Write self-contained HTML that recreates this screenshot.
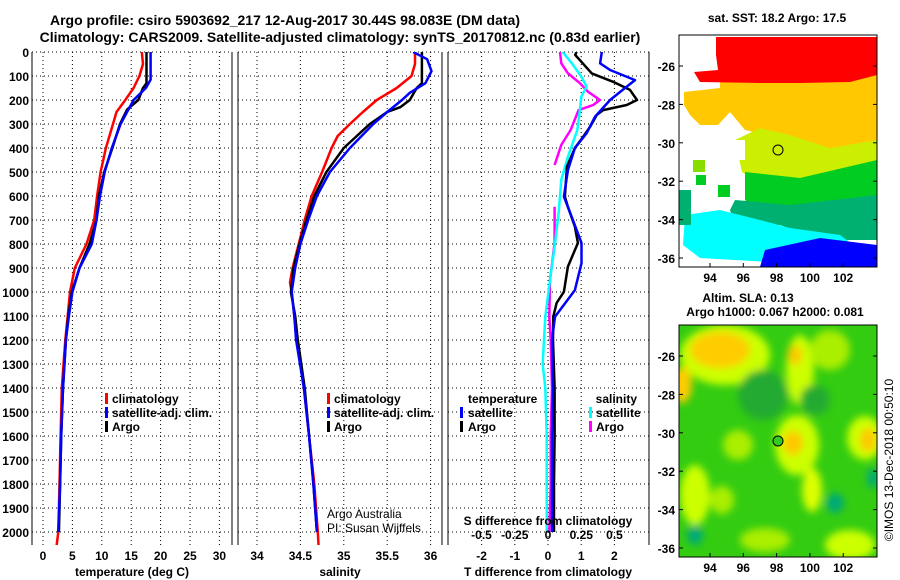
<!DOCTYPE html>
<html><head><meta charset="utf-8"><style>
html,body{margin:0;padding:0;background:#fff;}
svg{display:block;font-family:"Liberation Sans",sans-serif;}
.b{font-weight:bold;font-size:12px;}
.t{font-weight:bold;font-size:14px;}
.n{font-size:12px;}
</style></head><body>
<svg id="chart" width="900" height="580" viewBox="0 0 900 580" xmlns="http://www.w3.org/2000/svg">
<defs>
<clipPath id="c1"><rect x="32" y="52" width="200" height="493"/></clipPath>
<clipPath id="c2"><rect x="238" y="52" width="204" height="493"/></clipPath>
<clipPath id="c3"><rect x="448" y="52" width="201" height="493"/></clipPath>
<clipPath id="cm1"><rect x="679" y="35" width="198" height="232"/></clipPath>
<clipPath id="cm2"><rect x="679" y="325" width="198" height="232"/></clipPath>
<filter id="blur" x="-20%" y="-20%" width="140%" height="140%"><feGaussianBlur stdDeviation="4"/></filter>
</defs>
<text class="t" x="285" y="25" text-anchor="middle">Argo profile: csiro 5903692_217 12-Aug-2017 30.44S 98.083E (DM data)</text>
<text class="t" x="340" y="42" text-anchor="middle">Climatology: CARS2009. Satellite-adjusted climatology: synTS_20170812.nc (0.83d earlier)</text>
<g id="grid"></g>
<g id="lines"></g>
<g id="labels"></g>

<g class="b">
<rect x="105" y="393" width="3" height="11" fill="#f00"/><text x="112" y="403">climatology</text>
<rect x="105" y="407" width="3" height="11" fill="#00f"/><text x="112" y="417">satellite-adj. clim.</text>
<rect x="105" y="421" width="3" height="11" fill="#000"/><text x="112" y="431">Argo</text>
</g>
<g class="b">
<rect x="327" y="393" width="3" height="11" fill="#f00"/><text x="334" y="403">climatology</text>
<rect x="327" y="407" width="3" height="11" fill="#00f"/><text x="334" y="417">satellite-adj. clim.</text>
<rect x="327" y="421" width="3" height="11" fill="#000"/><text x="334" y="431">Argo</text>
</g>
<g class="b">
<text x="468" y="403">temperature</text>
<rect x="460" y="407" width="3" height="11" fill="#00f"/><text x="468" y="417">satellite</text>
<rect x="460" y="421" width="3" height="11" fill="#000"/><text x="468" y="431">Argo</text>
<text x="637" y="403" text-anchor="end">salinity</text>
<rect x="589" y="407" width="3" height="11" fill="#0ff"/><text x="596" y="417">satellite</text>
<rect x="589" y="421" width="3" height="11" fill="#f0f"/><text x="596" y="431">Argo</text>
</g>
<text class="n" x="327" y="518">Argo Australia</text>
<text class="n" x="327" y="532">PI: Susan Wijffels</text>
<text class="b" x="548" y="525" text-anchor="middle">S difference from climatology</text>

<text class="b" x="777" y="22" text-anchor="middle">sat. SST: 18.2 Argo: 17.5</text>
<g clip-path="url(#cm1)">
<rect x="679" y="35" width="198" height="232" fill="#fff"/>
<polygon fill="#ffc800" points="684,92 720,88 720,72 877,72 877,165 830,160 800,150 780,138 745,130 730,112 718,125 700,125 690,115 684,105" />
<polygon fill="#ff0000" points="716,37 877,37 877,75 850,82 800,83 760,83 700,82 694,72 718,70 716,55" />
<polygon fill="#ccee00" points="735,140 760,128 790,135 830,148 877,140 877,180 840,182 800,178 760,182 742,172" />
<polygon fill="#00cc22" points="745,172 800,178 877,160 877,205 800,215 760,212 745,200" />
<polygon fill="#00b070" points="735,200 790,205 877,195 877,240 820,240 780,225 735,225 730,210" />
<polygon fill="#00ffff" points="685,215 720,210 760,220 790,228 840,235 860,250 860,262 770,262 700,258 683,245" />
<polygon fill="#0000ff" points="765,250 820,238 877,245 877,267 760,267" />
<rect x="679" y="190" width="12" height="35" fill="#00b070"/>
<rect x="693" y="160" width="12" height="12" fill="#88dd00"/>
<rect x="696" y="175" width="10" height="10" fill="#00cc22"/>
<rect x="705" y="140" width="40" height="20" fill="#fff"/>
<rect x="718" y="185" width="12" height="12" fill="#00cc22"/>
<circle cx="778" cy="150" r="5" fill="#ccee00" stroke="#000" stroke-width="1"/>
</g>
<rect x="679" y="35" width="198" height="232" fill="none" stroke="#000"/>
<g id="mapaxes1"></g>
<text class="b" x="748" y="302" text-anchor="middle">Altim. SLA: 0.13</text>
<text class="b" x="775" y="316" text-anchor="middle">Argo h1000: 0.067 h2000: 0.081</text>

<g clip-path="url(#cm2)">
<rect x="679" y="325" width="198" height="232" fill="#33cc11"/>
<g filter="url(#blur)">
<ellipse cx="725" cy="355" rx="45" ry="30" fill="#ccff00"/>
<ellipse cx="720" cy="350" rx="30" ry="18" fill="#ffcc00"/>
<ellipse cx="682" cy="385" rx="10" ry="18" fill="#ffcc00"/>
<ellipse cx="800" cy="370" rx="14" ry="35" fill="#ccff00"/>
<ellipse cx="795" cy="355" rx="7" ry="10" fill="#ffc800"/>
<ellipse cx="830" cy="350" rx="20" ry="20" fill="#aaee00"/>
<ellipse cx="797" cy="445" rx="22" ry="30" fill="#ccff00"/>
<ellipse cx="793" cy="443" rx="10" ry="12" fill="#ffc800"/>
<ellipse cx="865" cy="438" rx="18" ry="22" fill="#ccff00"/>
<ellipse cx="868" cy="440" rx="8" ry="12" fill="#ffc800"/>
<ellipse cx="812" cy="490" rx="10" ry="22" fill="#ddff00"/>
<ellipse cx="738" cy="445" rx="15" ry="15" fill="#aaee00"/>
<ellipse cx="695" cy="495" rx="15" ry="30" fill="#ccff00"/>
<ellipse cx="722" cy="500" rx="12" ry="14" fill="#aaee00"/>
<ellipse cx="765" cy="540" rx="25" ry="12" fill="#aaee00"/>
<ellipse cx="850" cy="545" rx="25" ry="15" fill="#ccff00"/>
<ellipse cx="695" cy="535" rx="8" ry="10" fill="#00aa77"/>
<ellipse cx="835" cy="503" rx="9" ry="10" fill="#00aa77"/>
<ellipse cx="873" cy="478" rx="6" ry="10" fill="#00aa77"/>
<ellipse cx="763" cy="395" rx="25" ry="25" fill="#22aa33"/>
<ellipse cx="815" cy="400" rx="15" ry="15" fill="#22aa33"/>
</g>
<circle cx="778" cy="441" r="5" fill="#33cc22" stroke="#000" stroke-width="1"/>
</g>
<rect x="679" y="325" width="198" height="232" fill="none" stroke="#000"/>
<g id="mapaxes2"></g>
<text class="n" transform="translate(893,460) rotate(-90)" text-anchor="middle">©IMOS 13-Dec-2018 00:50:10</text>
</svg>
<script>
const depthTicks = [0,100,200,300,400,500,600,700,800,900,1000,1100,1200,1300,1400,1500,1600,1700,1800,1900,2000];
const tempTicks = [0,5,10,15,20,25,30];
const salTicks = [34,34.5,35,35.5,36];
const salTickLabels = ["34","34.5","35","35.5","36"];
const dtTicks = [-2,-1,0,1,2];
const dsTicks = [-0.5,-0.25,0,0.25,0.5];
const dsTickLabels = ["-0.5","-0.25","0","0.25","0.5"];

const tArgoDepth = [0,130,150,200,240,300,400,500,600,700,800,900,1000,1100,1200,1400,1600,1800,2000];
const tArgo = [17.6,17.6,17.0,16.2,14.3,13.1,11.8,10.4,9.5,9.1,7.9,6.2,4.9,4.3,3.9,3.4,3.1,2.9,2.7];
const tSatDepth = [0,115,150,200,300,400,500,600,700,800,900,1000,1100,1200,1400,1600,1800,2000];
const tSat = [18.3,18.3,17.5,15.4,13.2,11.7,10.5,9.7,9.1,8.3,6.2,5.0,4.4,3.9,3.4,3.1,2.9,2.6];
const tClimDepth = [0,50,100,150,200,250,300,400,500,600,700,800,900,1000,1100,1200,1400,1600,1800,2000,2060];
const tClim = [16.8,17.0,16.4,15.4,14.0,12.5,11.9,10.7,9.8,9.2,8.7,7.4,5.4,4.6,4.2,3.8,3.2,3.0,2.8,2.6,2.3];

const sArgoDepth = [0,130,150,200,230,250,300,350,400,470,500,600,700,800,900,1000,1100,1200,1400,1600,1800,2000];
const sArgo = [35.90,35.90,35.84,35.76,35.65,35.50,35.30,35.15,35.0,34.86,34.80,34.66,34.57,34.49,34.42,34.39,34.44,34.47,34.55,34.60,34.65,34.69];
const sSatDepth = [0,30,80,130,170,200,250,300,400,500,600,700,800,900,1000,1100,1200,1400,1600,1800,2000];
const sSat = [35.8,35.96,36.01,35.94,35.76,35.67,35.50,35.34,35.07,34.84,34.69,34.59,34.50,34.44,34.40,34.43,34.45,34.54,34.60,34.65,34.69];
const sClimDepth = [0,50,100,150,200,250,300,350,400,500,600,700,800,900,960,1000,1100,1200,1400,1600,1800,2000,2060];
const sClim = [35.82,35.82,35.78,35.61,35.38,35.22,35.07,34.93,34.86,34.75,34.63,34.55,34.48,34.41,34.38,34.40,34.43,34.46,34.54,34.60,34.66,34.70,34.71];

const dtArgoDepth = [0,12,89,124,158,200,221,242,262,311,353,400,478,603,645,728,796,894,999,1046,1103,1200,1400,1600,1800,2000];
const dtArgo = [0.86,0.82,1.32,1.96,2.47,2.68,2.37,1.66,1.47,1.27,1.06,0.81,0.57,0.51,0.6,0.81,0.9,0.6,0.48,0.26,0.16,0.15,0.2,0.2,0.18,0.18];
const dtSatDepth = [0,47,75,117,150,200,269,339,400,492,603,686,796,880,992,1103,1200,1400,1600,1800,2000];
const dtSat = [1.62,1.57,1.87,2.62,2.32,1.87,1.42,1.16,0.81,0.6,0.48,0.71,1.01,1.01,0.81,0.21,0.12,0.15,0.12,0.12,0.12];
const dsSatDepth = [0,47,103,144,186,242,325,436,533,672,811,950,1103,1200,1300,1400,1600,1800,2000];
const dsSat = [0.11,0.18,0.25,0.29,0.25,0.24,0.22,0.15,0.10,0.08,0.05,0.015,-0.02,-0.03,-0.04,-0.02,-0.01,-0.01,-0.01];
const dsArgoDepthA = [0,47,89,130,165,200,221,242,325,387,471];
const dsArgoA = [0.09,0.10,0.15,0.24,0.30,0.39,0.34,0.23,0.17,0.10,0.05];
const dsArgoDepthB = [645,796,950,1103,1200,1400,1600,1800,2000];
const dsArgoB = [0.05,0.05,0.015,0.01,0.02,0.03,0.02,0.02,0.01];

const mapLatTicks = [-26,-28,-30,-32,-34,-36];
const mapLonTicks = [94,96,98,100,102];

const yD = d => 52 + d*0.24;
const xT = v => 43 + v*5.88;
const xS = v => 257 + (v-34)*86.8;
const xDT = v => 548 + v*33.2;
const xDS = v => 548 + v*133;
const NS = "http://www.w3.org/2000/svg";
function mk(tag, attrs, parent){const e=document.createElementNS(NS,tag);for(const k in attrs)e.setAttribute(k,attrs[k]);parent.appendChild(e);return e;}

const grid = document.getElementById('grid');
const lines = document.getElementById('lines');
const labels = document.getElementById('labels');
const panels = [
 {x0:32,x1:232,ticks:tempTicks,fx:xT,lab:tempTicks.map(String),title:"temperature (deg C)",tx:132,name:"temperature"},
 {x0:238,x1:442,ticks:salTicks,fx:xS,lab:salTickLabels,title:"salinity",tx:340,name:"salinity"},
 {x0:448,x1:649,ticks:dtTicks,fx:xDT,lab:dtTicks.map(String),title:"T difference from climatology",tx:548,name:"difference"}
];
panels.forEach(p=>{
  depthTicks.forEach(d=>{ if(d===0) return;
    const l=mk('line',{x1:p.x0,x2:p.x1,y1:yD(d),y2:yD(d),stroke:'#000','stroke-width':1,'stroke-dasharray':'1,3'},grid);
    
    
  });
  p.ticks.forEach((v,i)=>{
    const x=p.fx(v);
    const l=mk('line',{x1:x,x2:x,y1:52,y2:545,stroke:'#000','stroke-width':1,'stroke-dasharray':'1,3'},grid);
    
    
    const t=mk('text',{x:x,y:560,'text-anchor':'middle',class:'b'},labels);
    t.textContent=p.lab[i];
    
    
  });
  const top=mk('line',{x1:p.x0,x2:p.x1,y1:52,y2:52,stroke:'#000','stroke-dasharray':'1,3'},grid);
  
  
  [p.x0,p.x1].forEach(x=>{
    const e=mk('line',{x1:x,x2:x,y1:52,y2:545,stroke:'#000','stroke-width':1},grid);
    
    
  });
  const tt=mk('text',{x:p.tx,y:576,'text-anchor':'middle',class:'b'},labels);
  tt.textContent=p.title;
  
  
});
dsTicks.forEach((v,i)=>{
  const t=mk('text',{x:xDS(v),y:539,'text-anchor':'middle',class:'b'},labels);
  t.textContent=dsTickLabels[i];
  
  
});
depthTicks.forEach(d=>{
  const t=mk('text',{x:29,y:yD(d)+5,'text-anchor':'end',class:'b'},labels);
  t.textContent=String(d);
  
  
});

function series(depths, vals, fx, color, clip, name){
  const pts = depths.map((d,i)=>fx(vals[i]).toFixed(1)+','+yD(d).toFixed(1)).join(' ');
  const pl = mk('polyline',{points:pts,fill:'none',stroke:color,'stroke-width':2.5,'stroke-linejoin':'round','clip-path':'url(#'+clip+')'},lines);
  
  
}
series(tClimDepth,tClim,xT,'#f00','c1','temperature-climatology-line');
series(tArgoDepth,tArgo,xT,'#000','c1','temperature-argo-line');
series(tSatDepth,tSat,xT,'#00f','c1','temperature-satellite-line');
series(sClimDepth,sClim,xS,'#f00','c2','salinity-climatology-line');
series(sArgoDepth,sArgo,xS,'#000','c2','salinity-argo-line');
series(sSatDepth,sSat,xS,'#00f','c2','salinity-satellite-line');
series(dsArgoDepthA,dsArgoA,xDS,'#f0f','c3','s-diff-argo-line-upper');
series(dsArgoDepthB,dsArgoB,xDS,'#f0f','c3','s-diff-argo-line-lower');
series(dsSatDepth,dsSat,xDS,'#0ff','c3','s-diff-satellite-line');
series(dtArgoDepth,dtArgo,xDT,'#000','c3','t-diff-argo-line');
series(dtSatDepth,dtSat,xDT,'#00f','c3','t-diff-satellite-line');

function mapAxes(gid, lat0y, y1){
  const g=document.getElementById(gid);
  mapLatTicks.forEach((v,i)=>{
    const y=lat0y + i*38.4;
    const t=mk('text',{x:675,y:y+5,'text-anchor':'end',class:'b'},g);
    t.textContent=String(v);
    
    
    mk('line',{x1:679,x2:683,y1:y,y2:y,stroke:'#000'},g);
    mk('line',{x1:873,x2:877,y1:y,y2:y,stroke:'#000'},g);
  });
  mapLonTicks.forEach((v,i)=>{
    const x=710 + i*33.3;
    const t=mk('text',{x:x,y:y1+15,'text-anchor':'middle',class:'b'},g);
    t.textContent=String(v);
    
    
    mk('line',{x1:x,x2:x,y1:y1,y2:y1-4,stroke:'#000'},g);
  });
}
mapAxes('mapaxes1',66,267);
mapAxes('mapaxes2',356,557);
</script>
</body></html>
